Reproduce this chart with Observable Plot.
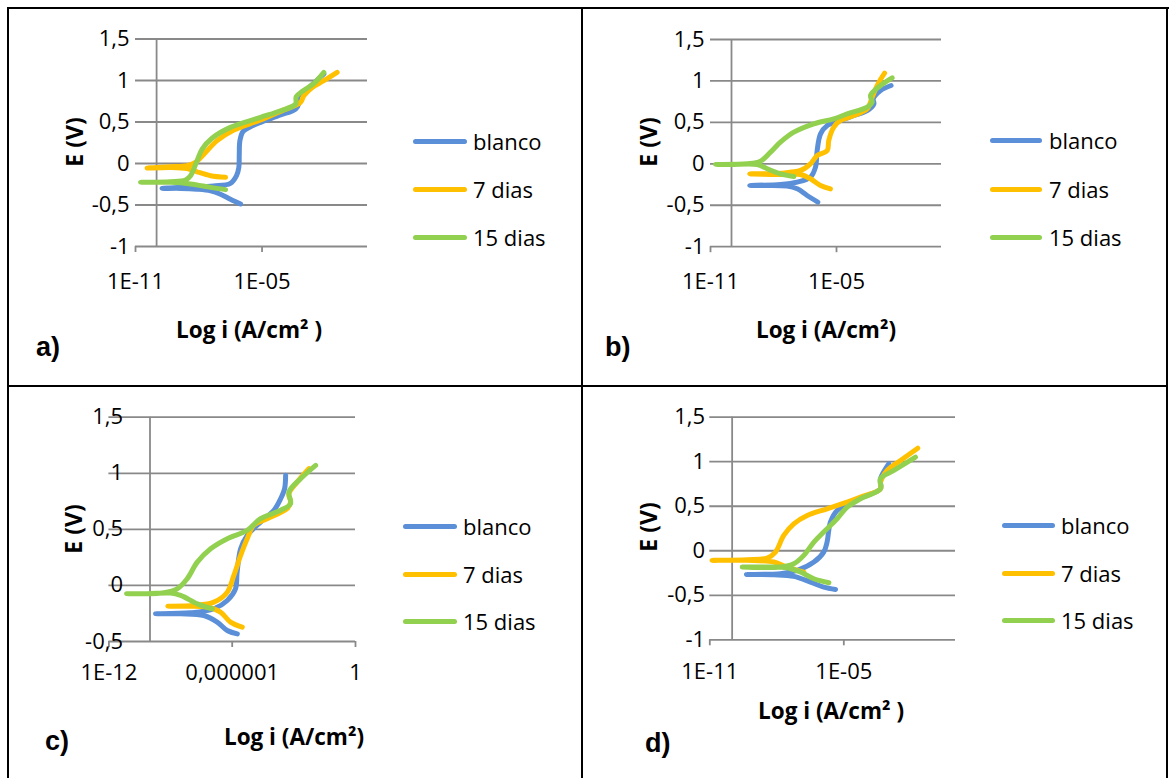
<!DOCTYPE html>
<html><head><meta charset="utf-8">
<script src="https://cdn.jsdelivr.net/npm/d3@7"></script>
<script src="https://cdn.jsdelivr.net/npm/@observablehq/plot@0.6"></script>
<style>
body{margin:0;background:#fff;}
#page{position:relative;width:1170px;height:778px;overflow:hidden;font-family:"Open Sans",sans-serif;background:#fff;}
.bd{position:absolute;background:#000;}
.t{position:absolute;white-space:nowrap;color:#000;line-height:1;}
.lg{position:absolute;height:5px;border-radius:3px;}
</style></head><body><div id="page"></div><script>
// ---- data ----
const series = ["blanco", "7 dias", "15 dias"];
const colors = ["#5B8FD7", "#FFC000", "#92D050"];
const yTicksA = [-1, -0.5, 0, 0.5, 1, 1.5];
const yTickLabelsA = ["-1", "-0,5", "0", "0,5", "1", "1,5"];
const yTicksC = [-0.5, 0, 0.5, 1, 1.5];
const yTickLabelsC = ["-0,5", "0", "0,5", "1", "1,5"];
const xTicksA = [1e-11, 1e-5];
const xTickLabelsA = ["1E-11", "1E-05"];
const xTicksC = [1e-12, 1e-6, 1];
const xTickLabelsC = ["1E-12", "0,000001", "1"];
const panelLetters = ["a)", "b)", "c)", "d)"];
const xTitles = ["Log i (A/cm² )", "Log i (A/cm²)", "Log i (A/cm²)", "Log i (A/cm² )"];
const yTitle = "E (V)";

// log10(i) and E for each panel / series
const aBlancoLogI = [-6.02,-6.5,-6.97,-7.44,-8.08,-8.87,-9.74,-8.55,-7.3,-6.5,-6.21,-6.1,-6.08,-6.05,-5.9,-5.55,-5.07,-4.12,-3.41,-3.26,-3.3,-2.86,-2.07];
const aBlancoE    = [-0.488,-0.43,-0.37,-0.33,-0.31,-0.30,-0.30,-0.285,-0.27,-0.24,-0.147,-0.047,0.114,0.275,0.387,0.443,0.496,0.584,0.656,0.724,0.805,0.897,1.078];
const a7LogI = [-6.73,-7.44,-8.08,-8.55,-9.34,-10.45,-9.34,-8.55,-8.16,-7.68,-7.13,-6.34,-5.07,-4.12,-3.18,-3.02,-2.62,-2.07,-1.44];
const a7E    = [-0.167,-0.147,-0.10,-0.06,-0.047,-0.055,-0.04,-0.027,0.013,0.134,0.275,0.403,0.524,0.628,0.736,0.817,0.917,0.998,1.098];
const a15LogI = [-6.73,-7.44,-8.39,-9.34,-10.76,-9.34,-8.63,-8.39,-8.11,-7.84,-7.36,-6.5,-5.07,-4.12,-3.41,-3.38,-3.05,-2.54,-2.07];
const a15E    = [-0.315,-0.288,-0.247,-0.227,-0.227,-0.22,-0.2,-0.147,0.014,0.174,0.307,0.435,0.556,0.636,0.716,0.805,0.877,0.965,1.098];

const bBlancoLogI = [-5.89,-6.4,-6.87,-7.35,-8.3,-9.13,-7.67,-6.87,-6.24,-6.0,-5.92,-5.76,-5.44,-4.81,-4.17,-3.54,-3.22,-3.25,-2.9,-2.4];
const bBlancoE    = [-0.462,-0.382,-0.302,-0.269,-0.261,-0.261,-0.249,-0.221,-0.161,-0.04,0.161,0.362,0.462,0.523,0.583,0.643,0.724,0.784,0.885,0.945];
const b7LogI = [-5.29,-5.76,-6.24,-6.71,-7.67,-9.13,-7.67,-6.71,-6.24,-5.92,-5.44,-5.37,-5.13,-4.81,-4.17,-3.54,-3.3,-3.06,-2.71];
const b7E    = [-0.302,-0.261,-0.181,-0.129,-0.129,-0.121,-0.113,-0.08,0.0,0.10,0.161,0.281,0.442,0.523,0.583,0.663,0.804,0.945,1.094];
const b15LogI = [-7.03,-7.67,-8.3,-8.78,-10.05,-10.76,-9.25,-8.62,-8.14,-7.67,-7.03,-6.08,-5.13,-4.49,-3.54,-3.3,-3.38,-2.9,-2.35];
const b15E    = [-0.153,-0.121,-0.06,-0.008,-0.008,-0.008,0.0,0.032,0.141,0.261,0.382,0.483,0.543,0.603,0.684,0.744,0.824,0.945,1.037];

const cBlancoLogI = [-5.75,-6.24,-6.73,-7.38,-8.51,-9.73,-8.03,-6.89,-6.24,-5.84,-5.76,-5.59,-5.27,-4.62,-3.97,-3.64,-3.45,-3.4];
const cBlancoE    = [-0.432,-0.402,-0.327,-0.268,-0.253,-0.253,-0.244,-0.208,-0.134,-0.03,0.119,0.327,0.446,0.565,0.670,0.774,0.863,0.982];
const c7LogI = [-5.51,-6.08,-6.57,-7.22,-8.19,-9.13,-7.86,-6.89,-6.24,-5.92,-5.59,-5.27,-4.95,-4.3,-3.32,-3.16,-3.24,-2.83,-2.26];
const c7E    = [-0.372,-0.327,-0.238,-0.193,-0.185,-0.185,-0.179,-0.149,-0.06,0.089,0.268,0.417,0.536,0.595,0.685,0.744,0.818,0.923,1.042];
const c15LogI = [-6.97,-7.7,-8.51,-9.0,-10.14,-11.14,-9.32,-8.68,-8.19,-7.7,-7.05,-6.24,-5.27,-4.62,-3.64,-3.16,-3.24,-2.67,-1.94];
const c15E    = [-0.208,-0.164,-0.089,-0.068,-0.074,-0.074,-0.065,-0.03,0.06,0.208,0.327,0.417,0.491,0.595,0.670,0.729,0.833,0.952,1.071];

const dBlancoLogI = [-5.37,-5.9,-6.49,-7.24,-8.13,-9.36,-7.84,-7.09,-6.34,-5.9,-5.75,-5.6,-5.3,-4.55,-3.96,-3.36,-3.36,-2.99];
const dBlancoE    = [-0.434,-0.408,-0.352,-0.288,-0.27,-0.266,-0.258,-0.221,-0.127,-0.015,0.097,0.322,0.453,0.565,0.621,0.696,0.808,0.976];
const d7LogI = [-6.79,-7.54,-8.13,-9.33,-10.9,-9.33,-8.43,-8.06,-7.69,-7.24,-6.64,-5.75,-4.85,-4.25,-3.36,-3.36,-3.06,-2.46,-1.69];
const d7E    = [-0.239,-0.183,-0.127,-0.108,-0.108,-0.101,-0.082,-0.015,0.172,0.303,0.397,0.471,0.546,0.603,0.696,0.771,0.902,1.014,1.152];
const d15LogI = [-5.67,-6.34,-6.94,-7.54,-8.58,-9.55,-7.84,-7.24,-6.79,-6.34,-5.9,-5.3,-4.85,-4.25,-3.36,-3.36,-2.76,-1.79];
const d15E    = [-0.359,-0.314,-0.239,-0.191,-0.183,-0.183,-0.183,-0.146,-0.052,0.097,0.21,0.359,0.49,0.584,0.696,0.808,0.902,1.051];

// ---- layout ----
const grid = "#898989";
const FONT = "Open Sans";
const panels = [
  {xDomain:[1e-11,1], xRange:[135,367], yDomain:[-1,1.5], yRange:[246,38.5], yTicks:yTicksA, yLabels:yTickLabelsA, xTicks:xTicksA, xLabels:xTickLabelsA, labelDy:35,
   data:[[aBlancoLogI,aBlancoE],[a7LogI,a7E],[a15LogI,a15E]],
   xt:[249,330], yt:[74,142], letter:[36,347], legend:[413,467,473,[141,189,237]]},
  {xDomain:[1e-11,1], xRange:[710,941], yDomain:[-1,1.5], yRange:[246.2,39], yTicks:yTicksA, yLabels:yTickLabelsA, xTicks:xTicksA, xLabels:xTickLabelsA, labelDy:35,
   data:[[bBlancoLogI,bBlancoE],[b7LogI,b7E],[b15LogI,b15E]],
   xt:[826,330], yt:[648,142], letter:[605,347], legend:[990,1042,1049,[140,189,237]]},
  {xDomain:[1e-12,1], xRange:[108.4,355], yDomain:[-0.5,1.5], yRange:[641,416.7], yTicks:yTicksC, yLabels:yTickLabelsC, xTicks:xTicksC, xLabels:xTickLabelsC, labelDy:31,
   data:[[cBlancoLogI,cBlancoE],[c7LogI,c7E],[c15LogI,c15E]],
   xt:[294,737], yt:[73,529], letter:[45,741], legend:[403,457,463,[526,574,621]]},
  {xDomain:[1e-11,1], xRange:[709.3,955], yDomain:[-1,1.5], yRange:[639.3,416.7], yTicks:yTicksA, yLabels:yTickLabelsA, xTicks:xTicksA, xLabels:xTickLabelsA, labelDy:32,
   data:[[dBlancoLogI,dBlancoE],[d7LogI,d7E],[d15LogI,d15E]],
   xt:[831,711], yt:[648,527], letter:[645,743], legend:[1002,1055,1061,[525,573,620]]}
];

const page = document.getElementById("page");
function div(cls, css, text){ const d=document.createElement("div"); d.className=cls; Object.assign(d.style, css); if(text!==undefined) d.textContent=text; page.appendChild(d); return d; }

// table borders
div("bd",{left:"7px",top:"7px",width:"1162px",height:"2px"});
div("bd",{left:"7px",top:"7px",width:"2px",height:"771px"});
div("bd",{left:"1166px",top:"7px",width:"2px",height:"771px"});
div("bd",{left:"581px",top:"7px",width:"2px",height:"771px"});
div("bd",{left:"7px",top:"385px",width:"1161px",height:"2px"});

panels.forEach((p, pi) => {
  const vAxis = p.xDomain[0] * 10 ** (pi === 2 ? 2 : 1);
  const marks = [
    Plot.ruleY(p.yTicks, {y: d => d, x1: p.xDomain[0], x2: p.xDomain[1], stroke: grid, strokeWidth: 1.8}),
    Plot.ruleX([vAxis], {x: d => d, y1: p.yDomain[0], y2: p.yDomain[1], stroke: grid, strokeWidth: 1.8}),
    Plot.ruleX(p.xTicks, {x: d => d, y1: p.yDomain[0], y2: p.yDomain[0], insetBottom: -6, stroke: grid, strokeWidth: 1.8}),
  ];
  p.data.forEach(([li, e], k) => {
    const rows = li.map((v, j) => ({i: 10 ** v, E: e[j]}));
    marks.push(Plot.line(rows, {x: "i", y: "E", stroke: colors[k], strokeWidth: 5, curve: "catmull-rom", strokeLinecap: "round", strokeLinejoin: "round"}));
  });
  marks.push(Plot.text(p.yTicks, {x: vAxis, y: d => d, text: (d, i) => p.yLabels[i], dx: -27, textAnchor: "end", lineAnchor: "middle", fontSize: 22, fontFamily: FONT, fill: "#000"}));
  marks.push(Plot.text(p.xTicks, {x: d => d, y: p.yDomain[0], text: (d, i) => p.xLabels[i], dy: p.labelDy, textAnchor: "middle", lineAnchor: "middle", fontSize: 22, fontFamily: FONT, fill: "#000"}));
  const svg = Plot.plot({
    width: 1170, height: 778,
    x: {type: "log", domain: p.xDomain, range: p.xRange, axis: null},
    y: {domain: p.yDomain, range: p.yRange, axis: null},
    style: "background: transparent; overflow: visible; position: absolute; left: 0; top: 0;",
    marks
  });
  page.appendChild(svg);

  // titles
  div("t", {left: p.xt[0]+"px", top: p.xt[1]+"px", transform: "translate(-50%,-50%)", fontWeight: 700, fontSize: "22.5px"}, xTitles[pi]);
  div("t", {left: p.yt[0]+"px", top: p.yt[1]+"px", transform: "translate(-50%,-50%) rotate(-90deg)", fontWeight: 700, fontSize: "23px"}, yTitle);
  div("t", {left: p.letter[0]+"px", top: p.letter[1]+"px", transform: "translate(0,-50%)", fontWeight: 700, fontSize: "27px", fontFamily: "Liberation Sans"}, panelLetters[pi]);
  // legend
  const [l1, l2, tx, ys] = p.legend;
  series.forEach((s, k) => {
    div("lg", {left: l1+"px", top: (ys[k]-2.5)+"px", width: (l2-l1)+"px", background: colors[k]});
    div("t", {left: tx+"px", top: ys[k]+"px", transform: "translate(0,-50%)", fontSize: "22px"}, s);
  });
});
</script></body></html>
